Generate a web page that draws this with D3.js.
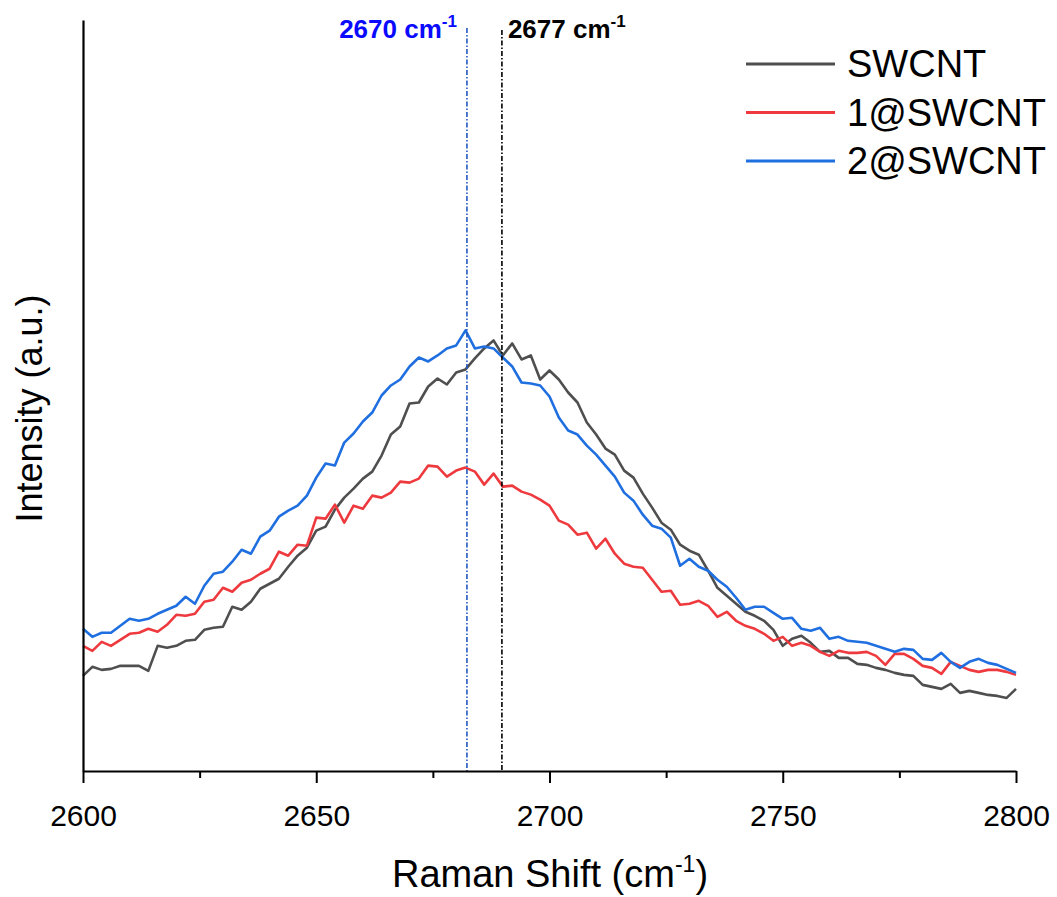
<!DOCTYPE html>
<html>
<head>
<meta charset="utf-8">
<script src="https://cdn.jsdelivr.net/npm/d3@7"></script>
<style>
  body { margin: 0; background: #fff; }
  svg { font-family: "Liberation Sans", Arial, sans-serif; }
</style>
</head>
<body>
<div id="chart"></div>
<script>
// Raman shift sampling grid (cm-1), every 2 cm-1 from 2600 to 2800
const shifts = d3.range(2600, 2802, 2);

// Intensities (a.u.)
const swcnt = [95, 104, 101, 102, 105, 105, 105, 100, 125, 123,
  125, 130, 131, 141, 143, 144, 164, 161, 169, 182,
  187, 192, 204, 215, 223, 240, 244, 261, 273, 282,
  292, 299, 315, 336, 344, 367, 368, 384, 392, 386,
  398, 401, 412, 422, 430, 415, 427, 411, 415, 391,
  400, 391, 378, 368, 348, 336, 322, 316, 300, 293,
  277, 263, 248, 241, 226, 220, 216, 200, 183, 175,
  167, 159, 155, 150, 141, 125, 132, 135, 128, 119,
  120, 113, 113, 107, 106, 103, 101, 98, 96, 95,
  86, 84, 82, 87, 78, 80, 78, 76, 75, 73, 82];

const swcnt1 = [125, 120, 129, 125, 131, 137, 138, 142, 139, 146,
  156, 155, 157, 169, 171, 183, 179, 188, 191, 197,
  202, 219, 215, 226, 225, 253, 252, 266, 248, 265,
  262, 275, 273, 278, 289, 288, 292, 305, 304, 294,
  300, 303, 299, 286, 297, 284, 285, 279, 276, 271,
  265, 250, 246, 236, 238, 222, 232, 217, 207, 204,
  203, 191, 179, 180, 166, 167, 170, 165, 154, 159,
  150, 145, 142, 137, 130, 134, 125, 128, 125, 119,
  115, 120, 118, 118, 119, 115, 106, 117, 117, 112,
  105, 103, 97, 109, 105, 101, 99, 101, 101, 99, 96];

const swcnt2 = [142, 134, 138, 138, 145, 152, 150, 152, 157, 161,
  165, 174, 167, 185, 197, 199, 209, 221, 217, 234,
  240, 254, 260, 265, 275, 293, 307, 305, 328, 337,
  349, 358, 375, 385, 391, 404, 413, 409, 415, 422,
  425, 440, 422, 424, 422, 413, 404, 388, 387, 385,
  374, 353, 340, 336, 325, 316, 305, 294, 278, 270,
  256, 245, 242, 233, 205, 212, 204, 200, 191, 184,
  173, 161, 164, 164, 158, 152, 153, 142, 140, 143,
  132, 134, 130, 129, 128, 125, 122, 119, 122, 121,
  112, 111, 118, 109, 103, 109, 112, 108, 106, 102, 98];

const seriesNames = ["SWCNT", "1@SWCNT", "2@SWCNT"];
const seriesColors = ["#4f4f4f", "#ee3a3e", "#1f6fe0"];

const xTicks = [2600, 2650, 2700, 2750, 2800];
const xMinorTicks = [2625, 2675, 2725, 2775];

// marked peak positions and their labels
const peakShifts = [2682.3, 2689.8];
const peakLabels = ["2670 cm", "2677 cm"];

const margin = {top: 20, right: 41, bottom: 126, left: 83},
      width = 1057 - margin.left - margin.right,
      height = 897 - margin.top - margin.bottom;

const svg = d3.select("#chart")
  .append("svg")
  .attr("width", 1057)
  .attr("height", 897)
  .append("g")
  .attr("transform", `translate(${margin.left},${margin.top})`);

const x = d3.scaleLinear().domain([2600, 2800]).range([0, width]);
const y = d3.scaleLinear().domain([0, 750]).range([height, 0]);

// curves
const line = d3.line()
  .x((d, i) => x(shifts[i]))
  .y(d => y(d));

[swcnt, swcnt1, swcnt2].forEach((s, i) => {
  svg.append("path")
    .datum(s)
    .attr("fill", "none")
    .attr("stroke", seriesColors[i])
    .attr("stroke-width", 2.6)
    .attr("stroke-linejoin", "round")
    .attr("d", line);
});

// dash-dot peak markers
const peakColors = ["#2258c0", "#000"];
const labelColors = ["#0a0aff", "#000"];
peakShifts.forEach((p, i) => {
  svg.append("line")
    .attr("x1", x(p)).attr("x2", x(p))
    .attr("y1", i === 0 ? 8 : 10)
    .attr("y2", height)
    .attr("stroke", peakColors[i])
    .attr("stroke-width", 1.6)
    .attr("stroke-dasharray", "5,2,1.5,2");

  const t = svg.append("text")
    .attr("x", i === 0 ? x(p) - 10 : x(p) + 6)
    .attr("y", 18)
    .attr("text-anchor", i === 0 ? "end" : "start")
    .style("font-size", "26px")
    .style("font-weight", "bold")
    .attr("fill", labelColors[i]);
  t.append("tspan").text(peakLabels[i]);
  t.append("tspan").attr("dy", -11).style("font-size", "17px").text("-1");
});

// x axis
const xAxis = svg.append("g")
  .attr("transform", `translate(0,${height})`)
  .call(d3.axisBottom(x).tickValues(xTicks).tickSize(12).tickSizeOuter(0)
    .tickPadding(22).tickFormat(d3.format("d")));
xAxis.select(".domain").attr("stroke-width", 2.2);
xAxis.selectAll(".tick line").attr("stroke-width", 2);
xAxis.selectAll("text")
  .style("font-size", "30px")
  .style("font-family", "Liberation Sans, Arial, sans-serif")
  .attr("fill", "#000");

const xMinor = svg.append("g")
  .attr("transform", `translate(0,${height})`)
  .call(d3.axisBottom(x).tickValues(xMinorTicks).tickSize(7).tickFormat(""));
xMinor.select(".domain").remove();
xMinor.selectAll(".tick line").attr("stroke-width", 2);

// y axis (no ticks)
const yAxis = svg.append("g")
  .call(d3.axisLeft(y).tickValues([]).tickSizeOuter(0));
yAxis.select(".domain").attr("stroke-width", 2.2);

// axis titles
const xTitle = svg.append("text")
  .attr("x", 467)
  .attr("y", height + 116)
  .attr("text-anchor", "middle")
  .style("font-size", "38px");
xTitle.append("tspan").text("Raman Shift (cm");
xTitle.append("tspan").attr("dy", -15).style("font-size", "23px").text("-1");
xTitle.append("tspan").attr("dy", 15).text(")");

svg.append("text")
  .attr("transform", "rotate(-90)")
  .attr("x", -height / 2 - 13)
  .attr("y", -41)
  .attr("text-anchor", "middle")
  .style("font-size", "36px")
  .text("Intensity (a.u.)");

// legend
const legend = svg.append("g").attr("transform", "translate(663,44)");
seriesNames.forEach((n, i) => {
  const g = legend.append("g").attr("transform", `translate(0,${i * 48.5})`);
  g.append("line")
    .attr("x1", 0).attr("x2", 89)
    .attr("y1", 0).attr("y2", 0)
    .attr("stroke", seriesColors[i])
    .attr("stroke-width", 2.8);
  g.append("text")
    .attr("x", 101)
    .attr("y", 13)
    .style("font-size", "38px")
    .text(n);
});
</script>
</body>
</html>
